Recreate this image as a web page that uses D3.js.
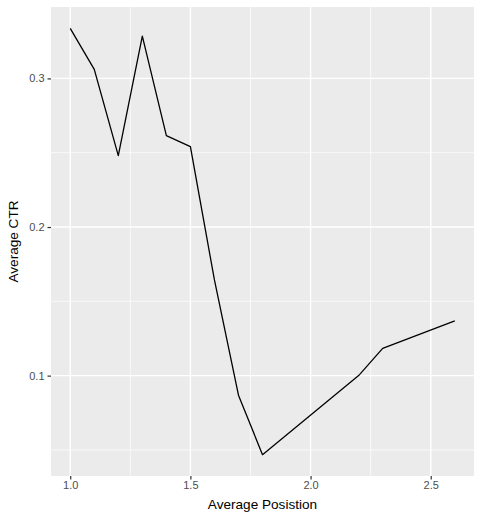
<!DOCTYPE html>
<html>
<head>
<meta charset="utf-8">
<script src="https://cdn.jsdelivr.net/npm/d3@7"></script>
<style>
  body { margin: 0; background: #ffffff; }
  svg { display: block; }
</style>
</head>
<body>
<svg id="chart" width="482" height="520"></svg>
<script>
// data
var positions = [1.0, 1.1, 1.2, 1.3, 1.4, 1.5, 1.6, 1.7, 1.8, 2.2, 2.3, 2.6];
var ctrValues = [0.3337, 0.3061, 0.248, 0.3285, 0.2615, 0.2541, 0.1644, 0.0868, 0.0468, 0.1, 0.1183, 0.1369];
var xTicks = [1.0, 1.5, 2.0, 2.5];
var xMinor = [1.25, 1.75, 2.25];
var yTicks = [0.1, 0.2, 0.3];
var yMinor = [0.05, 0.15, 0.25];

var svg = d3.select("#chart");

// panel box
var margin = { top: 7, right: 8, bottom: 44, left: 51 };
var width = 482 - margin.left - margin.right;
var height = 520 - margin.top - margin.bottom;

// ggplot style 5% expansion
var expand = function(ext) {
  let pad = (ext[1] - ext[0]) * 0.05;
  return [ext[0] - pad, ext[1] + pad];
};

var x = d3.scaleLinear()
  .domain(expand(d3.extent(positions)))
  .range([0, width]);

var y = d3.scaleLinear()
  .domain(expand(d3.extent(ctrValues)))
  .range([height, 0]);

var plot = svg.append("g")
  .attr("transform", "translate(" + margin.left + "," + margin.top + ")");

plot.append("rect")
  .attr("width", width)
  .attr("height", height)
  .attr("fill", "#ebebeb");

// minor grid
plot.selectAll("line.xminor")
  .data(xMinor)
  .enter().append("line")
  .attr("x1", d => x(d)).attr("x2", d => x(d))
  .attr("y1", 0).attr("y2", height)
  .attr("stroke", "#ffffff").attr("stroke-width", 0.7);

plot.selectAll("line.yminor")
  .data(yMinor)
  .enter().append("line")
  .attr("y1", d => y(d)).attr("y2", d => y(d))
  .attr("x1", 0).attr("x2", width)
  .attr("stroke", "#ffffff").attr("stroke-width", 0.7);

// major grid
plot.selectAll("line.xmajor")
  .data(xTicks)
  .enter().append("line")
  .attr("x1", d => x(d)).attr("x2", d => x(d))
  .attr("y1", 0).attr("y2", height)
  .attr("stroke", "#ffffff").attr("stroke-width", 1.4);

plot.selectAll("line.ymajor")
  .data(yTicks)
  .enter().append("line")
  .attr("y1", d => y(d)).attr("y2", d => y(d))
  .attr("x1", 0).attr("x2", width)
  .attr("stroke", "#ffffff").attr("stroke-width", 1.4);

// line
var line = d3.line()
  .x((d, i) => x(positions[i]))
  .y(d => y(d));

plot.append("path")
  .datum(ctrValues)
  .attr("d", line)
  .attr("fill", "none")
  .attr("stroke", "#000000")
  .attr("stroke-width", 1.3)
  .attr("stroke-linejoin", "round");

// axes
var xAxis = d3.axisBottom(x)
  .tickValues(xTicks)
  .tickFormat(d3.format(".1f"))
  .tickSize(3.5)
  .tickPadding(2);

var yAxis = d3.axisLeft(y)
  .tickValues(yTicks)
  .tickFormat(d3.format(".1f"))
  .tickSize(3.5)
  .tickPadding(3);

var xGroup = plot.append("g")
  .attr("transform", "translate(0," + height + ")")
  .call(xAxis);

var yGroup = plot.append("g")
  .call(yAxis);

[xGroup, yGroup].forEach(g => {
  g.select(".domain").remove();
  g.selectAll(".tick line").attr("stroke", "#333333").attr("stroke-width", 1.2);
  g.selectAll(".tick text")
    .attr("fill", "#4d4d4d")
    .style("font-family", "'Liberation Sans', Arial, sans-serif")
    .style("font-size", "11px");
});

// axis titles
svg.append("text")
  .text("Average Posistion")
  .attr("x", margin.left + width / 2)
  .attr("y", 509)
  .attr("text-anchor", "middle")
  .style("fill", "#000000")
  .style("font-family", "'Liberation Sans', Arial, sans-serif")
  .style("font-size", "13.6px");

svg.append("text")
  .text("Average CTR")
  .attr("transform", "translate(18," + (margin.top + height / 2) + ") rotate(-90)")
  .attr("text-anchor", "middle")
  .style("fill", "#000000")
  .style("font-family", "'Liberation Sans', Arial, sans-serif")
  .style("font-size", "13.6px");
</script>
</body>
</html>
